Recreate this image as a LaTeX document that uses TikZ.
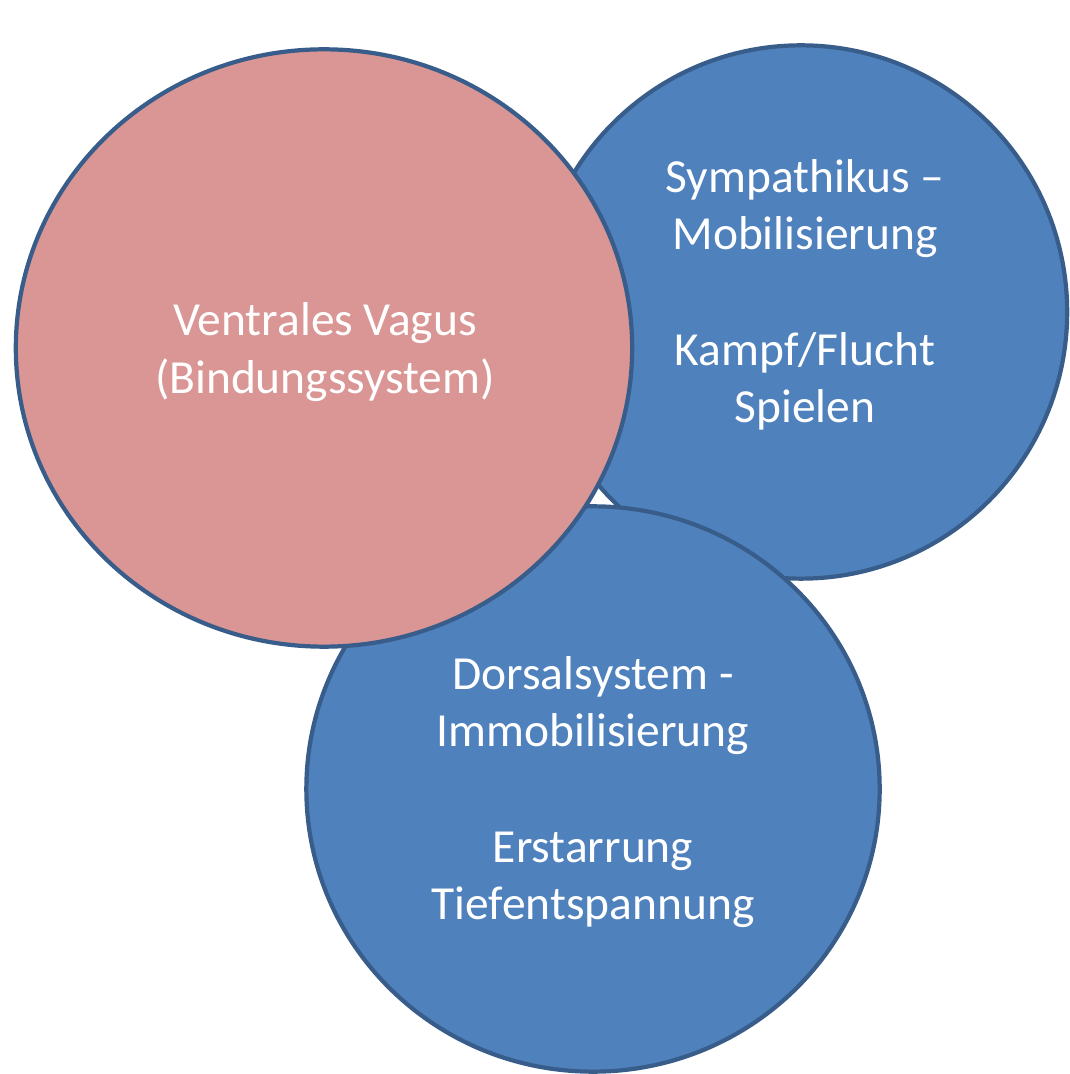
\documentclass[tikz,border=0pt]{standalone}
\usepackage{fontspec}
\setmainfont{Carlito}
\usetikzlibrary{shapes.geometric}
\definecolor{blobblue}{HTML}{4F81BD}
\definecolor{blobpink}{HTML}{D99694}
\definecolor{blobline}{HTML}{385D8A}
\tikzset{
  blob/.style={ellipse, draw=blobline, line width=1.2pt, inner sep=0pt},
  blobtext/.style={text=white, align=center, font=\fontsize{13.5}{16.4}\selectfont}
}
\begin{document}
\begin{tikzpicture}[x=0.01cm,y=-0.01cm]
\useasboundingbox (0,0) rectangle (1069,1074);

\node[blob, fill=blobblue, minimum width=5.32cm, minimum height=5.33cm] (sym) at (801,312) {};
\node[blob, fill=blobblue, minimum width=5.73cm, minimum height=5.65cm] (dors) at (593,789) {};
\node[blob, fill=blobpink, minimum width=6.16cm, minimum height=5.97cm] (vent) at (324,348) {};

\node[blobtext] (symtext) at (805,295) {Sympathikus --\\ Mobilisierung\\[\baselineskip] Kampf/Flucht\\ Spielen};
\node[blobtext] (dorstext) at (593,792) {Dorsalsystem -\\ Immobilisierung\\[\baselineskip] Erstarrung\\ Tiefentspannung};
\node[blobtext] (venttext) at (325,352) {Ventrales Vagus\\ (Bindungssystem)};
\end{tikzpicture}
\end{document}
